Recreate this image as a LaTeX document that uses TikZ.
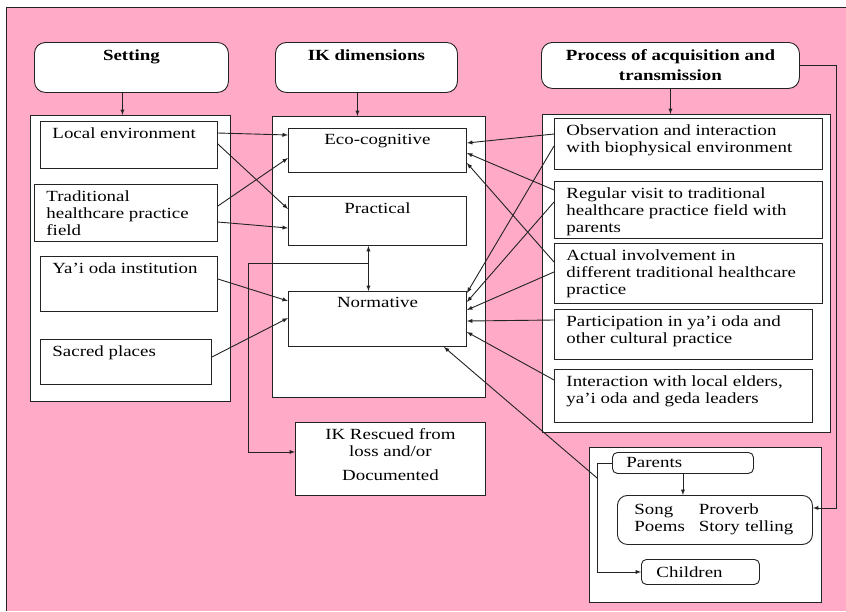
\documentclass[tikz,border=0pt]{standalone}
\usepackage{fontspec}
\setmainfont{Liberation Serif}[FakeStretch=1.22]
\usetikzlibrary{arrows}

\definecolor{bgpink}{RGB}{255,170,199}
\definecolor{inkgray}{RGB}{35,35,35}

% text kept at the top of a box of fixed size
\newcommand{\cellin}[3]{\parbox[c][#2][t]{#1}{\raggedright #3}}
\newcommand{\cellmid}[3]{\parbox[c][#2][t]{#1}{\centering #3}}

\tikzset{
	cell/.style = {draw, fill=white, anchor=north west, inner xsep=12pt, inner ysep=6pt},
	head/.style = {cell, rounded corners=11pt, inner ysep=7pt, font=\fontsize{15.5}{17}\selectfont\bfseries},
	frame/.style = {draw, fill=white, anchor=north west, inner sep=0pt},
	tag/.style = {draw, fill=white, anchor=north west, rounded corners=5pt, inner ysep=0pt, align=left},
	link/.style = {-latex}
}

\begin{document}
\begin{tikzpicture}[x=1pt, y=-1pt, line width=0.9pt, draw=inkgray, font=\fontsize{15.5}{17}\selectfont]
	\useasboundingbox (0,0) rectangle (846,611);
	\fill[white] (0,0) rectangle (846,611);
	\fill[bgpink] (6,7) rectangle (846,611);
	\draw (6,611) -- (6,7) -- (846,7);

	% headings
	\node[head] (setting) at (34,42) {\cellmid{170pt}{36pt}{Setting}};
	\node[head] (ikdim) at (275,42) {\cellmid{158pt}{36pt}{IK dimensions}};
	\node[head] (process) at (541,42) {\cellmid{234pt}{32pt}{Process of acquisition and\\[3pt]transmission}};

	% frames
	\node[frame, minimum width=200pt, minimum height=286pt] (setbox) at (30,115) {};
	\node[frame, minimum width=213pt, minimum height=281pt] (dimbox) at (272,116) {};
	\node[frame, minimum width=288pt, minimum height=318pt] (procbox) at (542,114) {};
	\node[frame, minimum width=232pt, minimum height=155pt] (transbox) at (589,447) {};

	% setting
	\node[cell] (localenv) at (40,121) {\cellin{153pt}{35pt}{Local environment}};
	\node[cell] (tradfield) at (34,184) {\cellin{159pt}{45pt}{Traditional\\healthcare practice\\field}};
	\node[cell] (yaioda) at (40,256) {\cellin{153pt}{43pt}{Ya'i oda institution}};
	\node[cell] (sacred) at (40,339) {\cellin{147pt}{33pt}{Sacred places}};

	% IK dimensions
	\node[cell] (eco) at (288,128) {\cellmid{154pt}{32pt}{Eco-cognitive}};
	\node[cell] (practical) at (288,196) {\cellmid{154pt}{37pt}{Practical}};
	\node[cell] (normative) at (288,291) {\cellmid{154pt}{43pt}{Normative}};
	\node[cell] (rescued) at (295,422) {\cellmid{166pt}{61pt}{IK Rescued from\\loss and/or\\[7pt]Documented}};

	% acquisition and transmission
	\node[cell] (obs) at (554,118) {\cellin{244pt}{39pt}{Observation and interaction\\with biophysical environment}};
	\node[cell] (regular) at (554,181) {\cellin{244pt}{45pt}{Regular visit to traditional\\healthcare practice field with\\parents}};
	\node[cell] (actual) at (554,243) {\cellin{244pt}{48pt}{Actual involvement in\\different traditional healthcare\\practice}};
	\node[cell] (partic) at (554,309) {\cellin{234pt}{38pt}{Participation in ya'i oda and\\other cultural practice}};
	\node[cell] (interact) at (554,369) {\cellin{234pt}{41pt}{Interaction with local elders,\\ya'i oda and geda leaders}};

	\node[tag, minimum height=21pt, text width=113pt, inner xsep=14pt] (parents) at (612,452) {Parents};
	\node[tag, minimum height=49pt, text width=161pt, inner xsep=17pt, rounded corners=10pt] (media) at (617,495)
		{\begin{tabular}{@{}l@{\hspace{14pt}}l@{}}Song & Proverb\\Poems & Story telling\end{tabular}};
	\node[tag, minimum height=25pt, text width=88pt, inner xsep=15pt] (children) at (641,559) {Children};

	% headings to frames
	\draw[link] ([xshift=-9pt]setting.south) -- ([xshift=-9pt]setting.south |- setbox.north);
	\draw[link] ([xshift=-9pt]ikdim.south) -- ([xshift=-9pt]ikdim.south |- dimbox.north);
	\draw[link] (process.south) -- (process.south |- procbox.north);

	% setting to dimensions
	\draw[link] ([yshift=-12pt]localenv.north east) -- ([yshift=-7pt]eco.north west);
	\draw[link] ([yshift=-23pt]localenv.north east) -- ([yshift=-13pt]practical.north west);
	\draw[link] ([yshift=-22pt]tradfield.north east) -- ([yshift=-30pt]eco.north west);
	\draw[link] ([yshift=-38pt]tradfield.north east) -- ([yshift=-32pt]practical.north west);
	\draw[link] ([yshift=-23pt]yaioda.north east) -- ([yshift=-10pt]normative.north west);
	\draw[link] ([yshift=-18pt]sacred.north east) -- ([yshift=-27pt]normative.north west);

	% processes to dimensions
	\draw[link] ([yshift=-16pt]obs.north west) -- ([yshift=-15pt]eco.north east);
	\draw[link] ([yshift=-9pt]regular.north west) -- ([yshift=-25pt]eco.north east);
	\draw[link] ([yshift=-19pt]actual.north west) -- ([yshift=-35pt]eco.north east);
	\draw[link] ([yshift=-28pt]obs.north west) -- ([yshift=-2pt]normative.north east);
	\draw[link] ([yshift=-21pt]regular.north west) -- ([yshift=-11pt]normative.north east);
	\draw[link] ([yshift=-29pt]actual.north west) -- ([yshift=-19pt]normative.north east);
	\draw[link] ([yshift=-11pt]partic.north west) -- ([yshift=-30pt]normative.north east);
	\draw[link] ([yshift=-11pt]interact.north west) -- ([yshift=-41pt]normative.north east);

	% practical and normative, rescued
	\draw[latex-latex] ([xshift=-9pt]practical.south) -- ([xshift=-9pt]practical.south |- normative.north);
	\coordinate (tap) at ([xshift=-9pt, yshift=-18pt]practical.south);
	\draw[link] (tap) -- ++(-120,0) |- ([yshift=7pt]rescued.west);

	% transmission
	\draw[link] (parents.south) -- (parents.south |- media.north);
	\draw[link] (parents.west) -- ++(-15,0) |- (children.west);
	\coordinate (split) at ([xshift=-15pt, yshift=-15pt]parents.west);
	\draw[link] (split) -- ([xshift=-23pt]normative.south east);
	\draw[link] (process.east) -- ++(37,0) |- ([yshift=12pt]media.east);
\end{tikzpicture}
\end{document}
